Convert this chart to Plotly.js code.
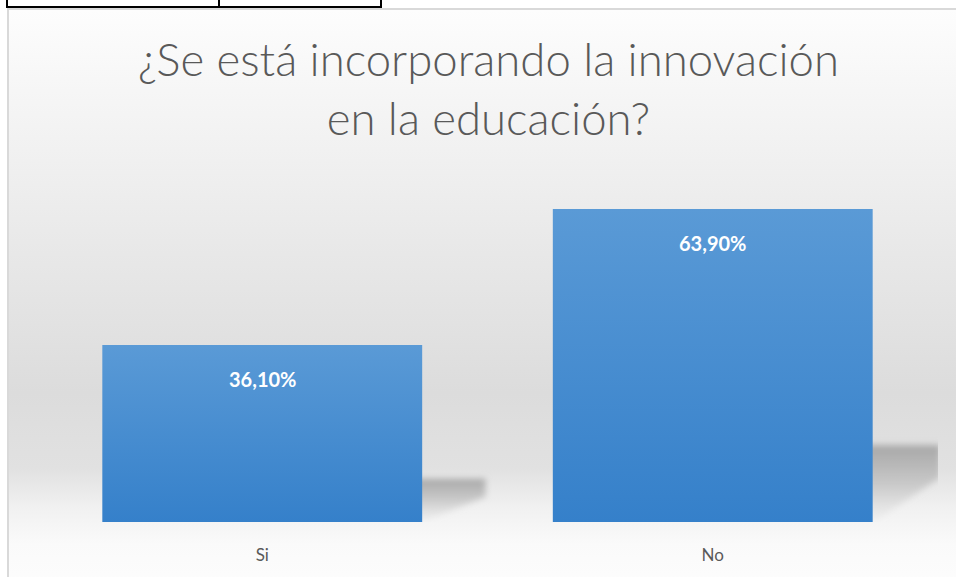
<!DOCTYPE html>
<html>
<head>
<meta charset="utf-8">
<script src="https://cdn.plot.ly/plotly-3.0.1.min.js"></script>
<style>
  html, body { margin: 0; padding: 0; width: 956px; height: 577px; overflow: hidden; background: #ffffff; }
  #frame { position: absolute; left: 7px; top: 8px; width: 960px; height: 580px;
    border-left: 2px solid #d9d9d9; border-top: 2px solid #d9d9d9;
    background: linear-gradient(to bottom, #fdfdfd 0%, #f7f7f7 12%, #f1f1f1 24%, #e5e5e5 48%, #dcdcdc 66%, #e1e1e1 79%, #f1f1f1 86%, #fafafa 92%, #fdfdfd 100%); }
  #tbl { position: absolute; left: 6px; top: -2px; width: 372px; height: 6px;
    border: 2px solid #000; }
  #tblmid { position: absolute; left: 218px; top: 0px; width: 2px; height: 7px; background: #000; }
  #chart { position: absolute; left: 0; top: 0; width: 956px; height: 577px; }
</style>
</head>
<body>
<div id="frame"></div>
<div id="tbl"></div>
<div id="tblmid"></div>
<div id="chart"></div>
<script>
// ---- data ----
const categories = ["Si", "No"];
const values = [36.1, 63.9];
const titleText = "¿Se está incorporando la innovación<br>en la educación?";

const labels = values.map(v => v.toFixed(2).replace('.', ',') + '%');

const trace = {
  type: 'bar',
  x: categories,
  y: values,
  marker: { color: '#4a8dd2', line: { width: 0 } },
  hoverinfo: 'none'
};

const annotations = categories.map((c, i) => ({
  x: c, y: values[i], xref: 'x', yref: 'y',
  text: labels[i], showarrow: false,
  yanchor: 'top', yshift: -20,
  font: { family: 'Lato, "Open Sans", sans-serif', size: 20, color: '#ffffff', weight: 'bold' }
}));

const layout = {
  width: 956, height: 577,
  paper_bgcolor: 'rgba(0,0,0,0)',
  plot_bgcolor: 'rgba(0,0,0,0)',
  margin: { l: 37, r: 18, t: 179, b: 55 },
  bargap: 0.29,
  showlegend: false,
  title: {
    text: titleText,
    x: 0.511, xanchor: 'center',
    y: 0.869, yanchor: 'top', yref: 'container',
    font: { family: 'Lato, "Open Sans", sans-serif', size: 45.5, color: '#595959', weight: 300 }
  },
  xaxis: {
    showgrid: false, zeroline: false, showline: false, ticks: '',
    tickfont: { family: 'Lato, "Open Sans", sans-serif', size: 17, color: '#595959' },
    ticklabelstandoff: 21
  },
  yaxis: {
    range: [0, 70], visible: false, showgrid: false, zeroline: false
  },
  annotations: annotations
};

Plotly.newPlot('chart', [trace], layout, { displayModeBar: false, staticPlot: true }).then(gd => {
  const svg = gd.querySelector('svg.main-svg');
  const NS = 'http://www.w3.org/2000/svg';
  let defs = svg.querySelector('defs');
  if (!defs) { defs = document.createElementNS(NS, 'defs'); svg.insertBefore(defs, svg.firstChild); }
  defs.insertAdjacentHTML('beforeend',
    '<linearGradient id="barGrad" x1="0" y1="0" x2="0" y2="1">' +
    '<stop offset="0" stop-color="#5a9ad6"/><stop offset="1" stop-color="#3580ca"/></linearGradient>' +
    '<linearGradient id="shGrad" x1="0" y1="0" x2="0" y2="1">' +
    '<stop offset="0" stop-color="#a0a0a0" stop-opacity="0.9"/><stop offset="0.5" stop-color="#b4b4b4" stop-opacity="0.6"/><stop offset="1" stop-color="#d0d0d0" stop-opacity="0.1"/></linearGradient>' +
    '<filter id="shBlur" x="-30%" y="-30%" width="160%" height="160%"><feGaussianBlur stdDeviation="3"/></filter>');
  const paths = gd.querySelectorAll('.barlayer .point path');
  paths.forEach(p => {
    const bb = p.getBBox();
    const R = bb.x + bb.width, B = bb.y + bb.height, h = bb.height;
    const top = B - 0.245 * h;
    const ext = 58 + 0.03 * h;
    const poly = document.createElementNS(NS, 'polygon');
    const pts = [[R - 20, B], [R - 20, top], [R + ext, top], [R + ext, top + 0.42 * (B - top)], [R + 4, B - 2]];
    poly.setAttribute('points', pts.map(q => q.join(',')).join(' '));
    poly.setAttribute('fill', 'url(#shGrad)');
    poly.setAttribute('filter', 'url(#shBlur)');
    p.parentNode.parentNode.insertBefore(poly, p.parentNode);
    p.style.fill = 'url(#barGrad)';
  });
});
</script>
</body>
</html>
